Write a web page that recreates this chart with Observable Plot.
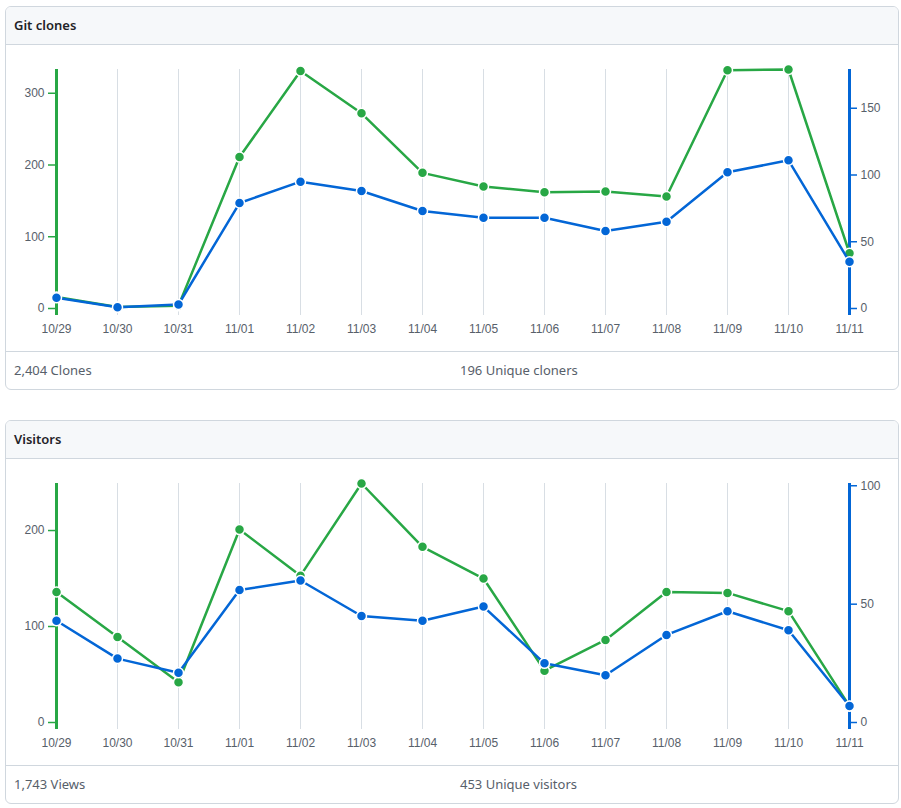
<!DOCTYPE html>
<html>
<head>
<meta charset="utf-8">
<script src="https://cdn.jsdelivr.net/npm/d3@7"></script>
<script src="https://cdn.jsdelivr.net/npm/@observablehq/plot@0.6"></script>
<style>
  html, body { margin: 0; padding: 0; background: #ffffff; }
  body { width: 901px; height: 808px; position: relative; font-family: "Noto Sans", "Liberation Sans", sans-serif; }
  .card { position: absolute; left: 5px; width: 892px; border: 1px solid #d0d7de; border-radius: 6px; overflow: hidden; background: #fff; }
  .hdr { height: 37px; line-height: 37px; background: #f6f8fa; border-bottom: 1px solid #d0d7de; padding-left: 8px; font-size: 13px; font-weight: 600; color: #1f2328; }
  .chart { position: relative; height: 306px; }
  .chart svg { position: absolute; left: 0; top: 0; }
  .ftr { height: 37px; border-top: 1px solid #d0d7de; display: flex; font-size: 13px; color: #57606a; line-height: 37px; }
  .ftr div { width: 50%; padding-left: 8px; box-sizing: border-box; }
</style>
</head>
<body>
<div class="card" id="c1" style="top:6px;">
  <div class="hdr">Git clones</div>
  <div class="chart" id="chart1"></div>
  <div class="ftr"><div>2,404 Clones</div><div>196 Unique cloners</div></div>
</div>
<div class="card" id="c2" style="top:420px;">
  <div class="hdr">Visitors</div>
  <div class="chart" id="chart2"></div>
  <div class="ftr"><div>1,743 Views</div><div>453 Unique visitors</div></div>
</div>
<script>
const dates = ["10/29","10/30","10/31","11/01","11/02","11/03","11/04","11/05","11/06","11/07","11/08","11/09","11/10","11/11"];

const clones        = [16, 2, 4, 211, 331, 272, 189, 170, 162, 163, 156, 332, 333, 77];
const uniqueCloners = [8, 1, 3, 79, 95, 88, 73, 68, 68, 58, 65, 102, 111, 35];
const clonesDomain = [0, 333];
const clonersDomain = [0, 179];
const clonesTicks = [0, 100, 200, 300];
const clonersTicks = [0, 50, 100, 150];

const views          = [136, 89, 42, 201, 153, 249, 183, 150, 54, 86, 136, 135, 116, 17];
const uniqueVisitors = [43, 27, 21, 56, 60, 45, 43, 49, 25, 20, 37, 47, 39, 7];
const viewsDomain = [0, 249];
const visitorsDomain = [0, 101];
const viewsTicks = [0, 100, 200];
const visitorsTicks = [0, 50, 100];

const GREEN = "#28a745";
const BLUE = "#0366d6";
const GRID = "#d8dee4";
const TEXT = "#57606a";

const W = 892, H = 306;
const common = {
  width: W, height: H,
  marginTop: 24, marginBottom: 36, marginLeft: 49, marginRight: 49,
  style: {background: "transparent", fontFamily: "'Liberation Sans', Arial, sans-serif", fontSize: "12px", overflow: "visible"}
};

function draw(el, leftVals, rightVals, leftDomain, rightDomain, leftTicks, rightTicks) {
  const leftData = dates.map((d, i) => ({date: d, v: leftVals[i]}));
  const rightData = dates.map((d, i) => ({date: d, v: rightVals[i]}));
  const xOpt = {type: "point", domain: dates, padding: 0};

  const bottom = Plot.plot({
    ...common,
    x: xOpt,
    y: {domain: leftDomain, insetBottom: 7},
    marks: [
      Plot.ruleX(dates.slice(1, -1), {stroke: GRID, strokeWidth: 1}),
      Plot.axisX({tickSize: 0, tickPadding: 9, fill: TEXT, fontSize: 12, label: null}),
      Plot.ruleX([dates[0]], {stroke: GREEN, strokeWidth: 3}),
      Plot.ruleX([dates[dates.length - 1]], {stroke: BLUE, strokeWidth: 3}),
      Plot.axisY({anchor: "left", ticks: leftTicks, tickSize: 7, tickPadding: 4, stroke: GREEN, strokeWidth: 1.5, fill: TEXT, fontSize: 12, label: null}),
      Plot.line(leftData, {x: "date", y: "v", stroke: GREEN, strokeWidth: 2.5}),
      Plot.dot(leftData, {x: "date", y: "v", r: 5, fill: GREEN, stroke: "#fff", strokeWidth: 1.5})
    ]
  });

  const top = Plot.plot({
    ...common,
    x: {...xOpt, axis: null},
    y: {domain: rightDomain, insetBottom: 7},
    marks: [
      Plot.axisY({anchor: "right", ticks: rightTicks, tickSize: 7, tickPadding: 4, stroke: BLUE, strokeWidth: 1.5, fill: TEXT, fontSize: 12, label: null}),
      Plot.line(rightData, {x: "date", y: "v", stroke: BLUE, strokeWidth: 2.5}),
      Plot.dot(rightData, {x: "date", y: "v", r: 5, fill: BLUE, stroke: "#fff", strokeWidth: 1.5})
    ]
  });

  el.append(bottom);
  el.append(top);
}

draw(document.getElementById("chart1"), clones, uniqueCloners, clonesDomain, clonersDomain, clonesTicks, clonersTicks);
draw(document.getElementById("chart2"), views, uniqueVisitors, viewsDomain, visitorsDomain, viewsTicks, visitorsTicks);
</script>
</body>
</html>
